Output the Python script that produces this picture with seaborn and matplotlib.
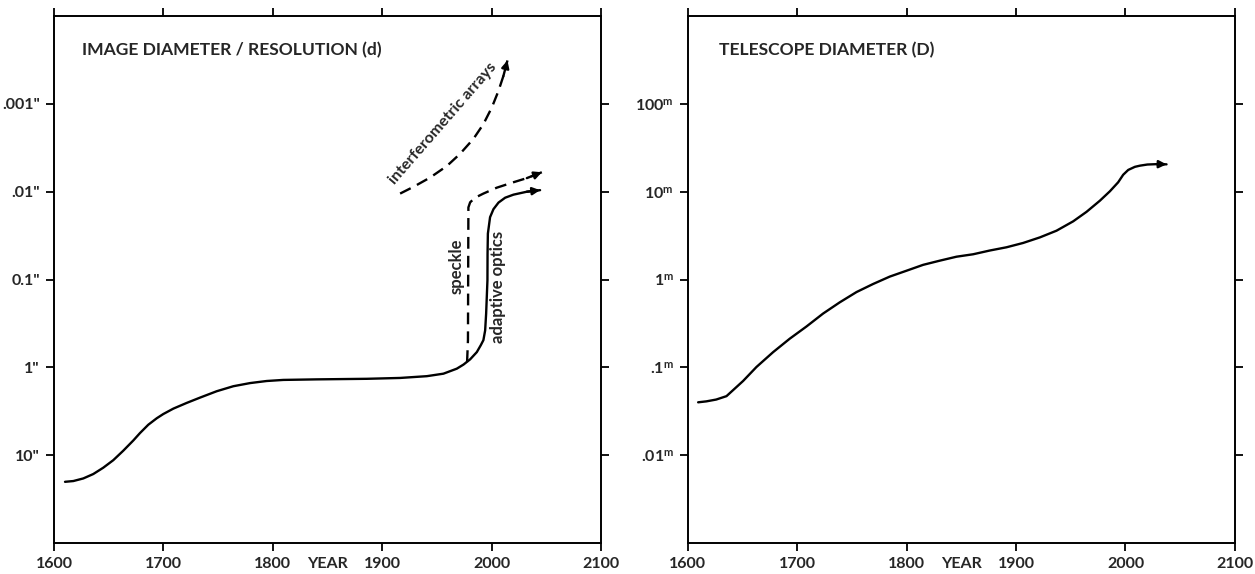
import numpy as np
import pandas as pd
import matplotlib
matplotlib.use("Agg")
import matplotlib.pyplot as plt
import matplotlib.transforms as mtransforms
from matplotlib.ticker import NullLocator
import seaborn as sns

# ---------------- data ----------------
# Left panel: image diameter / resolution (arcsec)
res_years = [1610.1, 1617.7, 1626.8, 1635.9, 1645, 1654.2, 1663.3, 1672.5, 1678.6,
             1686.2, 1693.9, 1699.9, 1709.1, 1721.3, 1733.5, 1748.7, 1763.9, 1779.2,
             1794.4, 1809.6, 1840.1, 1885.8, 1916.3, 1940.7, 1955.9, 1968.1, 1974.2,
             1980.3, 1986.4, 1990, 1992.4, 1994, 1994.9, 1996.1, 1996.2, 1996.5,
             1998.5, 2001.6, 2006.2, 2012.3, 2019.9, 2032.1, 2044.2]
res_arcsec = [20.1, 19.7, 18.4, 16.4, 13.9, 11.4, 8.9, 6.8, 5.6,
              4.5, 3.8, 3.4, 2.95, 2.54, 2.21, 1.87, 1.64, 1.51,
              1.43, 1.39, 1.37, 1.35, 1.32, 1.26, 1.18, 1.035, 0.93,
              0.81, 0.67, 0.56, 0.49, 0.38, 0.245, 0.102, 0.051, 0.030,
              0.0195, 0.0158, 0.0133, 0.0117, 0.0108, 0.0100, 0.0096]

speckle_years = [1977.5, 1978.3, 1978.7, 1980.3, 1984.8, 1992.4, 2004.6, 2019.9,
                 2032.1, 2045.8]
speckle_arcsec = [0.87, 0.49, 0.0151, 0.0132, 0.0117, 0.0105, 0.0090, 0.0078,
                  0.0070, 0.0060]

interf_years = [1916.3, 1928.5, 1943.7, 1959, 1971.1, 1983.3, 1992.4, 2000.1,
                2006.2, 2010.7, 2014.4]
interf_arcsec = [0.0105, 0.0088, 0.0069, 0.0051, 0.0037, 0.0025, 0.0017, 0.0011,
                 0.00071, 0.00048, 0.00032]

# Right panel: telescope diameter (m)
tel_years = [1609.5, 1617, 1626, 1635.4, 1641.4, 1650.6, 1662.8, 1678, 1693.2,
             1708.5, 1723.7, 1738.9, 1754.2, 1769.4, 1784.6, 1799.9, 1815.1, 1830.3,
             1845.6, 1860.8, 1876, 1891.3, 1906.5, 1921.8, 1937, 1952.2, 1964.4,
             1976.6, 1985.7, 1993.3, 1997.9, 2002.5, 2008.6, 2013.2, 2020, 2028.4,
             2037.5]
tel_m = [0.040, 0.041, 0.043, 0.047, 0.055, 0.070, 0.101, 0.149, 0.212,
         0.292, 0.41, 0.55, 0.72, 0.89, 1.08, 1.26, 1.47, 1.64,
         1.82, 1.94, 2.14, 2.33, 2.61, 3.02, 3.6, 4.6, 5.9,
         7.9, 10.1, 12.8, 15.6, 17.7, 19.2, 19.8, 20.4, 20.6,
         20.5]

x_ticks = [1600, 1700, 1800, 1900, 2000, 2100]
x_ticklabels = ["1600", "1700", "1800", "1900", "2000", "2100"]
left_yticks = [1e-3, 1e-2, 1e-1, 1, 10]
left_yticklabels = ['.001"', '.01"', '0.1"', '1"', '10"']
right_yticks = [1e-2, 1e-1, 1, 10, 100]
right_yticklabels = [r'.01$^{\mathrm{m}}$', r'.1$^{\mathrm{m}}$', r'1$^{\mathrm{m}}$',
                     r'10$^{\mathrm{m}}$', r'100$^{\mathrm{m}}$']

left_title = "IMAGE DIAMETER / RESOLUTION (d)"
right_title = "TELESCOPE DIAMETER (D)"
xlabel = "YEAR"

# ---------------- style ----------------
sns.set_style("ticks")
plt.rcParams['font.family'] = ['Lato', 'DejaVu Sans']
plt.rcParams['font.weight'] = 'bold'
plt.rcParams['mathtext.fontset'] = 'custom'
plt.rcParams['mathtext.rm'] = 'Lato:bold'
plt.rcParams['mathtext.it'] = 'Lato:bold'
plt.rcParams['mathtext.bf'] = 'Lato:bold'
plt.rcParams['axes.edgecolor'] = 'black'
plt.rcParams['axes.linewidth'] = 1.4

fig = plt.figure(figsize=(12.55, 5.74), dpi=100)
axL = fig.add_axes([0.043, 0.054, 0.436, 0.918])
axR = fig.add_axes([0.548, 0.054, 0.436, 0.918])

LW = 1.7
FS = 11.5
TFS = 12.6


def arrow_head(ax, xs, ys):
    ax.annotate("", xy=(xs[-1], ys[-1]), xytext=(xs[-2], ys[-2]),
                arrowprops=dict(arrowstyle="-|>", color="black", lw=LW,
                                mutation_scale=11, shrinkA=0, shrinkB=0))


def style_axes(ax):
    ax.set_xlim(1600, 2100)
    ax.set_xticks(x_ticks)
    ax.set_xticklabels(x_ticklabels)
    ax.yaxis.set_minor_locator(NullLocator())
    ax.tick_params(axis="both", which="major", direction="out", length=6, width=1.3,
                   top=True, right=True, labelsize=FS, color="black", pad=4)
    for s in ax.spines.values():
        s.set_visible(True)
        s.set_color("black")
        s.set_linewidth(1.4)
    ax.set_xlabel("")
    ax.set_ylabel("")
    trans = mtransforms.blended_transform_factory(ax.transData, ax.transAxes)
    ax.text(1850, -0.0275, xlabel, transform=trans, ha="center", va="top",
            fontsize=FS, fontweight="bold")


# ----- left panel -----
df_res = pd.DataFrame({"year": res_years, "val": res_arcsec})
df_sp = pd.DataFrame({"year": speckle_years, "val": speckle_arcsec})
df_if = pd.DataFrame({"year": interf_years, "val": interf_arcsec})

sns.lineplot(data=df_res, x="year", y="val", ax=axL, color="black", lw=LW,
             sort=False, estimator=None)
sns.lineplot(data=df_sp, x="year", y="val", ax=axL, color="black", lw=LW,
             sort=False, estimator=None, linestyle=(0, (5, 3)))
sns.lineplot(data=df_if, x="year", y="val", ax=axL, color="black", lw=LW,
             sort=False, estimator=None, linestyle=(0, (5, 3)))
axL.set_yscale("log")
axL.set_ylim(100, 1e-4)
axL.set_yticks(left_yticks)
axL.set_yticklabels(left_yticklabels)
style_axes(axL)
arrow_head(axL, res_years, res_arcsec)
arrow_head(axL, speckle_years, speckle_arcsec)
arrow_head(axL, interf_years, interf_arcsec)

axL.text(0.051, 0.935, left_title, transform=axL.transAxes, ha="left", va="center",
         fontsize=TFS, fontweight="bold")
axL.text(1955.5, 0.00168, "interferometric arrays", rotation=49, ha="center",
         va="center", fontsize=11.5, fontweight="bold", rotation_mode="anchor")
axL.text(1968, 0.07, "speckle", rotation=90, ha="center", va="center",
         fontsize=12, fontweight="bold")
axL.text(2006, 0.12, "adaptive optics", rotation=90, ha="center", va="center",
         fontsize=12, fontweight="bold")

# ----- right panel -----
df_tel = pd.DataFrame({"year": tel_years, "val": tel_m})
sns.lineplot(data=df_tel, x="year", y="val", ax=axR, color="black", lw=LW,
             sort=False, estimator=None)
axR.set_yscale("log")
axR.set_ylim(1e-3, 1e3)
axR.set_yticks(right_yticks)
axR.set_yticklabels(right_yticklabels)
style_axes(axR)
arrow_head(axR, tel_years, tel_m)
axR.text(0.058, 0.935, right_title, transform=axR.transAxes, ha="left", va="center",
         fontsize=TFS, fontweight="bold")

fig.savefig("out.png", dpi=100)
